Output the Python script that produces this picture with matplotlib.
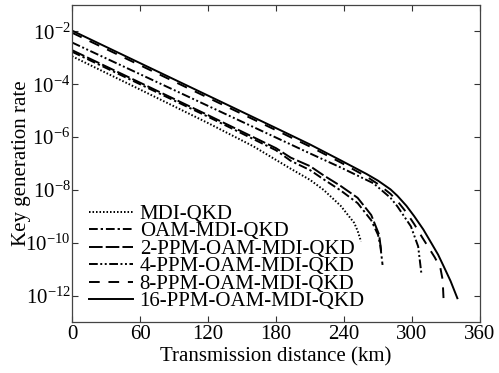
import numpy as np
import matplotlib.pyplot as plt

plt.rcParams['font.family'] = ['Liberation Serif', 'DejaVu Serif']
plt.rcParams['mathtext.fontset'] = 'custom'
plt.rcParams['mathtext.rm'] = 'Liberation Serif'

# distances (km) and log10 of key rate
d_mdi = [0, 60, 120, 160, 193, 210, 222, 237, 249, 252, 255]
r_mdi = [-2.94, -4.20, -5.47, -6.35, -7.20, -7.62, -8.00, -8.60, -9.25, -9.55, -9.95]

d_oam = [0, 60, 120, 180, 193, 210, 222, 237, 252, 264, 270, 272, 274]
r_oam = [-2.77, -4.00, -5.23, -6.50, -6.90, -7.25, -7.60, -8.02, -8.50, -9.15, -9.70, -10.10, -10.84]

d_2ppm = [0, 60, 120, 180, 193, 210, 222, 237, 252, 264, 271, 273]
r_2ppm = [-2.71, -3.94, -5.17, -6.42, -6.78, -7.10, -7.45, -7.85, -8.30, -8.95, -9.70, -10.40]

d_4ppm = [0, 60, 120, 180, 210, 237, 266, 281, 287, 299, 305.4, 308.4]
r_4ppm = [-2.42, -3.62, -4.82, -6.02, -6.62, -7.15, -7.75, -8.30, -8.62, -9.38, -10.14, -11.22]

d_8ppm = [0, 60, 120, 180, 210, 237, 260, 270, 281, 287, 295, 302, 309, 314, 320, 325, 327, 328]
r_8ppm = [-2.05, -3.28, -4.51, -5.74, -6.36, -6.96, -7.50, -7.78, -8.15, -8.42, -8.85, -9.30, -9.80,
          -10.14, -10.55, -10.95, -11.40, -12.30]

d_16ppm = [0, 60, 120, 180, 210, 237, 260, 270, 281, 287, 295, 302, 310, 317, 323, 328, 334, 340]
r_16ppm = [-1.97, -3.20, -4.43, -5.66, -6.28, -6.88, -7.40, -7.65, -7.98, -8.22, -8.60, -9.00, -9.50,
           -10.01, -10.45, -10.90, -11.45, -12.10]

labels = ['MDI-QKD', 'OAM-MDI-QKD', '2-PPM-OAM-MDI-QKD', '4-PPM-OAM-MDI-QKD',
          '8-PPM-OAM-MDI-QKD', '16-PPM-OAM-MDI-QKD']
xticks = [0, 60, 120, 180, 240, 300, 360]
yticks = [-12, -10, -8, -6, -4, -2]

series = [(d_mdi, r_mdi), (d_oam, r_oam), (d_2ppm, r_2ppm),
          (d_4ppm, r_4ppm), (d_8ppm, r_8ppm), (d_16ppm, r_16ppm)]
styles = [(0, (0.8, 1.0)),
          (0, (4.5, 1.5, 1.2, 1.5)),
          (0, (7, 1.6)),
          (0, (4.5, 1.3, 1.0, 1.3, 1.0, 1.3)),
          (0, (5.5, 4.5)),
          '-']

fig = plt.figure(figsize=(4.99, 3.73), dpi=100)
ax = fig.add_axes([0.1443, 0.1367, 0.8177, 0.85])

for (d, r), ls, lab in zip(series, styles, labels):
    ax.semilogy(d, 10.0 ** np.array(r), color='black', linestyle=ls, linewidth=1.4, label=lab)

ax.set_xlim(0, 360)
ax.set_ylim(1e-13, 1e-1)
ax.set_xticks(xticks)
ax.set_yticks([10.0 ** k for k in yticks])
ax.set_yticklabels([r'$\mathregular{10^{%d}}$' % k for k in yticks])
ax.yaxis.set_minor_locator(plt.NullLocator())
ax.tick_params(direction='in', top=True, right=True, length=4, width=0.8, pad=2,
               labelsize=15, colors='#333333', labelcolor='black')
ax.tick_params(axis='y', pad=1)
for s in ax.spines.values():
    s.set_color('#444444')
    s.set_linewidth(0.9)

ax.set_xlabel('Transmission distance (km)', fontsize=15, labelpad=2.5)
ax.set_ylabel('Key generation rate', fontsize=15)
ax.yaxis.set_label_coords(-0.1, 0.5)

ax.legend(loc='lower left', bbox_to_anchor=(0.01, -0.006), frameon=False, fontsize=15,
          handlelength=2.15, handletextpad=0.3, labelspacing=-0.1, borderaxespad=0.2)

fig.savefig('out.png', dpi=100)
